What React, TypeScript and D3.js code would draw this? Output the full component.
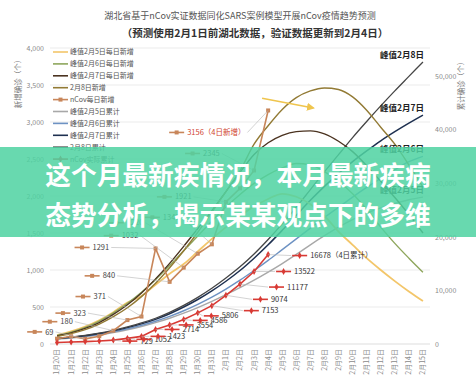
import React, { useRef, useEffect } from 'react';
import * as d3 from 'd3';

const days = [
  '1月20日', '1月21日', '1月22日', '1月23日', '1月24日', '1月25日', '1月26日', '1月27日', '1月28日',
  '1月29日', '1月30日', '1月31日', '2月1日', '2月2日', '2月3日', '2月4日', '2月5日', '2月6日',
  '2月7日', '2月8日', '2月9日', '2月10日', '2月11日', '2月12日', '2月13日', '2月14日', '2月15日',
];

// daily new, left axis
const peak5Daily = [120, 170, 235, 320, 430, 560, 650, 800, 950, 1080, 1250, 1420, 1580, 1730, 1860, 1960, 2030, 1990, 1890, 1730, 1520, 1340, 1160, 1000, 850, 710, 580];
const peak6Daily = [115, 160, 225, 310, 420, 550, 700, 870, 1060, 1260, 1460, 1660, 1850, 2020, 2170, 2290, 2380, 2440, 2420, 2330, 2200, 2030, 1820, 1580, 1360, 1160, 970];
const peak7Daily = [110, 150, 210, 290, 400, 530, 690, 880, 1090, 1320, 1560, 1800, 2060, 2320, 2560, 2720, 2820, 2870, 2880, 2840, 2740, 2600, 2410, 2200, 1980, 1750, 1500];
const peak8Daily = [100, 140, 195, 270, 370, 490, 640, 820, 1030, 1260, 1510, 1780, 2060, 2340, 2700, 2950, 3170, 3330, 3420, 3460, 3440, 3340, 3160, 2930, 2700, 2420, 2120];
const actualDaily = [72, 105, 69, 105, 180, 323, 371, 1291, 840, 1032, 1220, 1347, 1921, 2103, 2345, 3156];

// cumulative, right axis
const peak5Cum = [900, 1120, 1390, 1730, 2150, 2660, 3270, 3980, 4800, 5750, 6800, 7950, 9200, 10500, 11900, 13400, 15000, 16700, 18500, 20200, 21800, 23200, 24400, 25400, 26200, 26900, 27400];
const peak6Cum = [950, 1180, 1460, 1820, 2270, 2820, 3480, 4250, 5150, 6200, 7400, 8750, 10250, 11900, 13700, 15600, 17600, 19600, 21600, 23600, 25500, 27400, 29200, 30900, 32500, 34000, 35000];
const peak7Cum = [1000, 1250, 1550, 1950, 2450, 3050, 3750, 4600, 5650, 6900, 8300, 9900, 11700, 13700, 16000, 18500, 21200, 24000, 26800, 29400, 31800, 34000, 36000, 37900, 39600, 41200, 42700];
const peak8Cum = [1050, 1300, 1620, 2030, 2550, 3180, 3920, 4800, 5900, 7200, 8700, 10400, 12300, 14400, 16800, 19500, 22400, 25500, 28800, 32100, 35300, 38500, 41500, 44400, 47200, 49900, 52600];
const actualCum = [270, 375, 444, 549, 729, 1052, 1423, 2714, 3554, 4586, 5806, 7153, 9074, 11177, 13522, 16678];

const leftTicks = [0, 500, 1000, 1500, 2000, 2500, 3000, 3500, 4000];
const rightTicks = [0, 10000, 20000, 30000, 40000, 50000];

const legendNames = [
  '峰值2月5日每日新增', '峰值2月6日每日新增', '峰值2月7日每日新增', '2月8日新增', 'nCov每日新增',
  '峰值2月5日累计', '峰值2月6日累计', '峰值2月7日累计', '2月8日累计', 'nCov实际累计',
];
const peakNames = ['峰值2月5日', '峰值2月6日', '峰值2月7日', '峰值2月8日'];

const FONT = '"Noto Sans CJK SC", "Noto Sans", sans-serif';

const App = () => {
  const svgRef = useRef<SVGSVGElement>(null);

  useEffect(() => {
    const svg = d3.select(svgRef.current);
    svg.selectAll('*').remove();

    const x = d3.scaleBand().domain(days).range([50, 430]);
    const cx = (i: number) => (x(days[i]) as number) + x.bandwidth() / 2;
    const yL = d3.scaleLinear().domain([0, 4000]).range([344, 48]);
    const yR = d3.scaleLinear().domain([0, 55200]).range([344, 48]);

    const colors = {
      p5d: '#f3c66a', p6d: '#8ea65c', p7d: '#4b3320', p8d: '#927a34', actD: '#c8865a',
      p5c: '#a8a8a8', p6c: '#6d92c3', p7c: '#1e3050', p8c: '#454545', actC: '#d83a34',
    };

    // title
    svg.append('text').attr('x', 240).attr('y', 19).attr('text-anchor', 'middle')
      .attr('font-size', 9).attr('fill', '#555').attr('font-family', FONT)
      .text('湖北省基于nCov实证数据同化SARS案例模型开展nCov疫情趋势预测');
    svg.append('text').attr('x', 255).attr('y', 37).attr('text-anchor', 'middle')
      .attr('font-size', 10.5).attr('font-weight', 'bold').attr('fill', '#333').attr('font-family', FONT)
      .text('（预测使用2月1日前湖北数据，验证数据更新到2月4日）');

    // grid
    svg.append('g').selectAll('line').data(leftTicks).join('line')
      .attr('x1', 50).attr('x2', 430)
      .attr('y1', d => yL(d)).attr('y2', d => yL(d))
      .attr('stroke', d => (d === 0 ? '#d4d4d4' : '#e6e6e6')).attr('stroke-width', 0.8);

    // axes
    const axL = svg.append('g').attr('transform', 'translate(44,0)')
      .call(d3.axisLeft(yL).tickValues(leftTicks).tickSize(0).tickPadding(0));
    axL.select('.domain').remove();
    axL.selectAll('text').attr('font-size', 7).attr('fill', '#8a8a8a').attr('font-family', FONT);

    const axR = svg.append('g').attr('transform', 'translate(435,0)')
      .call(d3.axisRight(yR).tickValues(rightTicks).tickSize(0).tickPadding(0));
    axR.select('.domain').remove();
    axR.selectAll('text').attr('font-size', 7).attr('fill', '#8a8a8a').attr('font-family', FONT);

    const axB = svg.append('g').attr('transform', 'translate(0,344)')
      .call(d3.axisBottom(x).tickSize(0));
    axB.select('.domain').remove();
    axB.selectAll('text')
      .attr('transform', 'rotate(-90)')
      .attr('text-anchor', 'end')
      .attr('x', -5).attr('y', 0).attr('dy', '0.35em')
      .attr('font-size', 7).attr('fill', '#8a8a8a').attr('font-family', FONT);

    svg.append('text').attr('transform', 'translate(21,82) rotate(-90)').attr('text-anchor', 'middle')
      .attr('font-size', 7.5).attr('fill', '#777').attr('font-family', FONT).text('新增确诊（个）');
    svg.append('text').attr('transform', 'translate(464,84) rotate(-90)').attr('text-anchor', 'middle')
      .attr('font-size', 7.5).attr('fill', '#777').attr('font-family', FONT).text('累计确诊（个）');

    const lineL = d3.line<number>().x((_, i) => cx(i)).y(d => yL(d));
    const lineR = d3.line<number>().x((_, i) => cx(i)).y(d => yR(d));
    const smoothL = d3.line<number>().x((_, i) => cx(i)).y(d => yL(d)).curve(d3.curveMonotoneX);
    const smoothR = d3.line<number>().x((_, i) => cx(i)).y(d => yR(d)).curve(d3.curveMonotoneX);

    const curves: [number[], any, string, number][] = [
      [peak5Cum, smoothR, colors.p5c, 1.4],
      [peak6Cum, smoothR, colors.p6c, 1.4],
      [peak7Cum, smoothR, colors.p7c, 1.5],
      [peak8Cum, smoothR, colors.p8c, 1.3],
      [peak5Daily, smoothL, colors.p5d, 1.8],
      [peak6Daily, smoothL, colors.p6d, 1.4],
      [peak7Daily, smoothL, colors.p7d, 1.4],
      [peak8Daily, smoothL, colors.p8d, 1.4],
    ];
    svg.append('g').selectAll('path').data(curves).join('path')
      .attr('d', d => d[1](d[0]))
      .attr('fill', 'none').attr('stroke', d => d[2]).attr('stroke-width', d => d[3]);

    // peak labels at the end of cumulative curves
    const cumEnds = [peak5Cum, peak6Cum, peak7Cum, peak8Cum];
    svg.append('g').selectAll('text').data(peakNames).join('text')
      .attr('x', cx(days.length - 1) + 1)
      .attr('y', (_, i) => yR(cumEnds[i][days.length - 1]) - 4)
      .attr('text-anchor', 'end').attr('font-size', 8.5).attr('font-weight', 'bold')
      .attr('fill', '#222').attr('font-family', FONT).text(d => d);

    // yellow arrow annotation
    svg.append('defs').append('marker').attr('id', 'arr').attr('viewBox', '0 0 10 10')
      .attr('refX', 8).attr('refY', 5).attr('markerWidth', 5).attr('markerHeight', 5).attr('orient', 'auto')
      .append('path').attr('d', 'M0,0L10,5L0,10z').attr('fill', '#efc54e');
    svg.append('line')
      .attr('x1', cx(14) + 8).attr('y1', yL(3320))
      .attr('x2', cx(18) + 3).attr('y2', yL(3190))
      .attr('stroke', '#efc54e').attr('stroke-width', 1.6).attr('marker-end', 'url(#arr)');

    // actual series
    svg.append('path').attr('d', lineL(actualDaily))
      .attr('fill', 'none').attr('stroke', colors.actD).attr('stroke-width', 1.6);
    svg.append('g').selectAll('rect').data(actualDaily).join('rect')
      .attr('x', (_, i) => cx(i) - 2).attr('y', d => yL(d) - 2)
      .attr('width', 4).attr('height', 4).attr('fill', colors.actD);

    svg.append('path').attr('d', lineR(actualCum))
      .attr('fill', 'none').attr('stroke', colors.actC).attr('stroke-width', 1.6);
    const diamond = d3.symbol().type(d3.symbolDiamond).size(14);
    svg.append('g').selectAll('path').data(actualCum).join('path')
      .attr('transform', (d, i) => `translate(${cx(i)},${yR(d)})`)
      .attr('d', diamond()).attr('fill', colors.actC);

    // data labels with keys and leader lines
    const labelLayer = svg.append('g');
    const drawLabel = (px: number, py: number, tx: number, ty: number, txt: string,
      color: string, textColor: string, square: boolean, leaderFromKey: boolean) => {
      const t = labelLayer.append('text').attr('x', tx).attr('y', ty).attr('dy', '0.35em')
        .attr('font-size', 7.5).attr('fill', textColor).attr('font-family', FONT).text(txt);
      const w = (t.node() as SVGTextElement).getComputedTextLength();
      const lx = leaderFromKey ? tx - 19 : tx + w + 2;
      labelLayer.insert('line', ':first-child').attr('x1', lx).attr('y1', ty).attr('x2', px).attr('y2', py)
        .attr('stroke', '#b5b5b5').attr('stroke-width', 0.6);
      labelLayer.append('line').attr('x1', tx - 18).attr('x2', tx - 3).attr('y1', ty).attr('y2', ty)
        .attr('stroke', color).attr('stroke-width', 1.6);
      if (square) {
        labelLayer.append('rect').attr('x', tx - 12.5).attr('y', ty - 2).attr('width', 4).attr('height', 4).attr('fill', color);
      } else {
        labelLayer.append('path').attr('transform', `translate(${tx - 10.5},${ty})`).attr('d', diamond()).attr('fill', color);
      }
    };

    const dailyLabelIdx = [2, 4, 5, 6, 7, 8, 9, 10, 11, 12, 14, 15];
    const dailyOffsets = [[-40, -7], [-53, -9], [-54, -7], [-48, -20], [-63, -1], [-67, -6], [-62, -32], [-71, -31], [-49, -27], [-51, -5], [-51, -17], [-81, 22]];
    dailyLabelIdx.forEach((i, k) => {
      const px = cx(i), py = yL(actualDaily[i]);
      const last = i === 15;
      drawLabel(px, py, px + dailyOffsets[k][0], py + dailyOffsets[k][1],
        last ? `${actualDaily[i]}（4日新增）` : `${actualDaily[i]}`,
        colors.actD, last ? '#d0432e' : '#444', true, false);
    });

    const cumLabelIdx = [4, 5, 6, 7, 8, 9, 10, 11, 12, 13, 14, 15];
    const cumOffsets = [[27, 1], [27, 1], [27, 0], [27, 0], [27, 0], [27, 1], [24, 3], [50, 5], [45, 4], [47, 3], [40, 0], [42, 1]];
    cumLabelIdx.forEach((i, k) => {
      const px = cx(i), py = yR(actualCum[i]);
      const last = i === 15;
      drawLabel(px, py, px + cumOffsets[k][0], py + cumOffsets[k][1],
        last ? `${actualCum[i]}（4日累计）` : `${actualCum[i]}`,
        colors.actC, '#333', false, true);
    });

    // legend
    const legendColors = [colors.p5d, colors.p6d, colors.p7d, colors.p8d, colors.actD,
      colors.p5c, colors.p6c, colors.p7c, colors.p8c, colors.actC];
    const lg = svg.append('g').selectAll('g').data(legendNames).join('g')
      .attr('transform', (_, i) => `translate(53,${52 + i * 11.9})`);
    lg.append('line').attr('x1', 0).attr('x2', 15).attr('stroke', (_, i) => legendColors[i]).attr('stroke-width', 1.6);
    lg.filter((_, i) => i === 4).append('rect').attr('x', 5.5).attr('y', -2).attr('width', 4).attr('height', 4).attr('fill', colors.actD);
    lg.filter((_, i) => i === 9).append('path').attr('transform', 'translate(7.5,0)').attr('d', diamond()).attr('fill', colors.actC);
    lg.append('text').attr('x', 17).attr('dy', '0.35em').attr('font-size', 7)
      .attr('fill', '#555').attr('font-family', FONT).text(d => d);

    // banner overlay
    svg.append('rect').attr('x', 0).attr('y', 147).attr('width', 476).attr('height', 90)
      .attr('fill', '#4fd3a2').attr('opacity', 0.86);
    const bannerLines = ['这个月最新疾情况，本月最新疾病', '态势分析，揭示某某观点下的多维'];
    svg.append('g').selectAll('text').data(bannerLines).join('text')
      .attr('x', 238).attr('y', (_, i) => 185 + i * 40).attr('text-anchor', 'middle')
      .attr('font-size', 25.7).attr('font-weight', 'bold').attr('fill', '#fff')
      .attr('font-family', FONT).text(d => d);
  }, []);

  return (
    <>
      <style>{'body{margin:0}'}</style>
      <svg ref={svgRef} width={476} height={386} style={{ display: 'block', background: '#fff' }} />
    </>
  );
};

export default App;
